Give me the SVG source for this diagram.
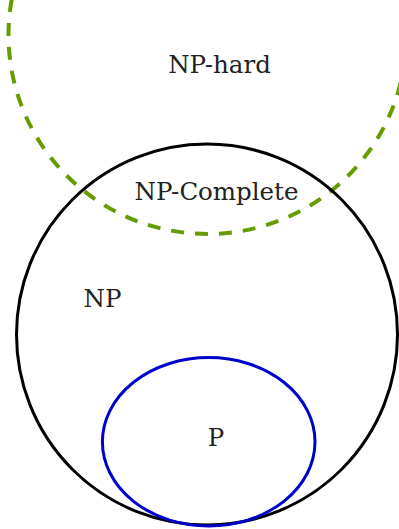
<svg xmlns="http://www.w3.org/2000/svg" width="399" height="529" viewBox="0 0 399 529">
<style>
.lbl{font-family:"DejaVu Serif","Liberation Serif",serif;font-size:24.5px;fill:#222;text-anchor:middle}
</style>
<rect width="399" height="529" fill="#fff"/>
<g id="np-hard">
<circle cx="207.5" cy="35" r="199" fill="none" stroke="#669c00" stroke-width="4" stroke-dasharray="13 11"/>
<text class="lbl" x="219.5" y="73">NP-hard</text>
</g>
<g id="np">
<circle cx="207" cy="334.5" r="190.5" fill="none" stroke="#000" stroke-width="3"/>
<text class="lbl" x="102.5" y="307">NP</text>
</g>
<g id="np-complete">
<text class="lbl" x="216.5" y="200">NP-Complete</text>
</g>
<g id="p">
<ellipse cx="208.7" cy="441.8" rx="106.3" ry="84.2" fill="none" stroke="#0000cc" stroke-width="3"/>
<text class="lbl" x="216" y="446">P</text>
</g>
<g id="connectors"/>
</svg>
